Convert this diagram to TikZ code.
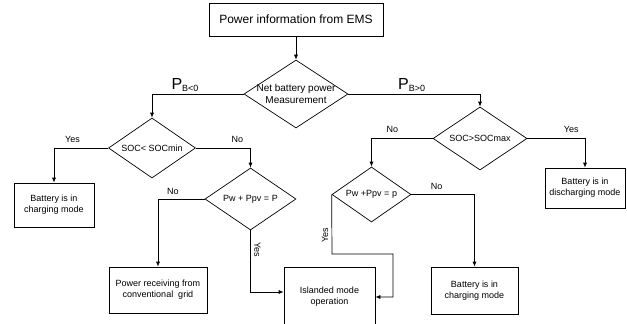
\documentclass[tikz,border=0pt]{standalone}
\usepackage{fontspec}
\setmainfont{Liberation Sans}
\usetikzlibrary{shapes.geometric,arrows.meta}
\newcommand{\zw}[1]{\makebox[0pt]{#1}}
\newcommand{\pb}[1]{{\fontsize{16}{16}\selectfont P}\raisebox{-1.5pt}{\fontsize{9}{9}\selectfont #1}}
\begin{document}
\begin{tikzpicture}[x=1pt,y=-1pt,>={Latex[length=5pt,width=4pt]},
	box/.style={draw,rectangle,align=center,inner sep=0pt,font=\fontsize{9}{11}\selectfont},
	dec/.style={draw,diamond,align=center,inner sep=0pt,font=\fontsize{9}{11}\selectfont},
	flow/.style={->,line width=0.7pt},
	lbl/.style={font=\fontsize{9}{11}\selectfont}]
	\useasboundingbox (0,0) rectangle (627,324);
	\begin{scope}[line width=0.7pt]
	\node[box,minimum width=174pt,minimum height=33pt,font=\fontsize{12}{14}\selectfont] (ems) at (296,19.5) {Power information from EMS};
	\node[dec,minimum width=104pt,minimum height=68pt,font=\fontsize{10}{12}\selectfont] (net) at (296,94) {\zw{Net battery power}\\\zw{Measurement}};
	\node[dec,minimum width=87pt,minimum height=60pt] (socmin) at (152,148) {\zw{SOC< SOCmin}};
	\node[dec,minimum width=94pt,minimum height=63pt] (socmax) at (480,138.5) {\zw{SOC>SOCmax}};
	\node[box,minimum width=80pt,minimum height=44pt] (chgA) at (54,205) {Battery is in\\charging mode};
	\node[dec,minimum width=91pt,minimum height=62pt] (pwpA) at (250.5,199) {\zw{Pw + Ppv = P}};
	\node[dec,minimum width=79pt,minimum height=55pt] (pwpB) at (371.5,194.5) {\zw{Pw +Ppv = p}};
	\node[box,minimum width=80pt,minimum height=40pt] (dis) at (585,188) {Battery is in\\discharging mode};
	\node[box,minimum width=98pt,minimum height=46pt] (grid) at (158,290) {Power receiving from\\conventional\ \ grid};
	\node[box,minimum width=91pt,minimum height=60pt] (isl) at (329.5,297) {Islanded mode\\operation};
	\node[box,minimum width=87pt,minimum height=47pt] (chgB) at (474.5,290.5) {Battery is in\\charging mode};
	\end{scope}
	\coordinate (c1) at (332,254);
	\coordinate (c2) at (393,254);
	\coordinate (c3) at (393,297);
	% branches
	\draw[flow] (ems) -- (net);
	\draw[flow] (net.west) -| node[pos=0.32,above,yshift=-1pt]{\pb{B<0}} (socmin.north);
	\draw[flow] (net.east) -| node[pos=0.24,above,yshift=-1pt]{\pb{B>0}} (socmax.north);
	\draw[flow] (socmin.west) -| node[lbl,pos=0.33,above,yshift=2pt]{Yes} (chgA.north);
	\draw[flow] (socmin.east) -| node[lbl,pos=0.38,above,yshift=2pt]{No} (pwpA.north);
	\draw[flow] (pwpA.west) -| node[lbl,pos=0.34,above,yshift=1pt]{No} (grid.north);
	\draw[flow] (pwpA.south) |- node[lbl,pos=0.16,rotate=-90,anchor=south]{Yes} (isl.west |- 0,292);
	\draw[flow] (socmax.west) -| node[lbl,pos=0.33,above,yshift=2pt]{No} (pwpB.north);
	\draw[flow] (socmax.east) -| node[lbl,pos=0.38,above,yshift=2pt]{Yes} (dis.north);
	\draw[flow] (pwpB.east) -| node[lbl,pos=0.2,above,yshift=1pt]{No} (chgB.north);
	\draw[flow] (pwpB.west) -- node[lbl,pos=0.68,rotate=90,anchor=south]{Yes} (c1) -- (c2) -- (c3) -- (isl.east |- c3);
\end{tikzpicture}
\end{document}
